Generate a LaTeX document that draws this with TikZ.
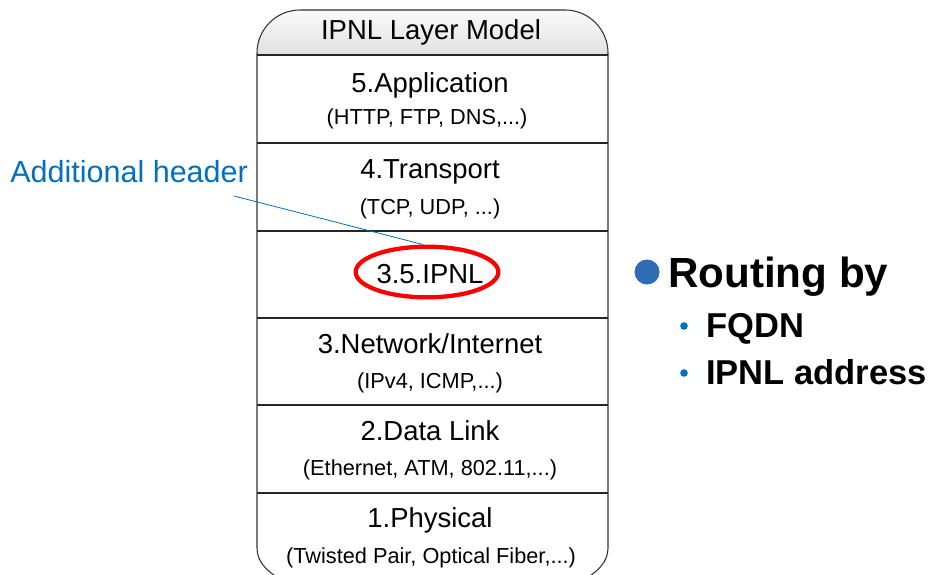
\documentclass[tikz,border=0pt]{standalone}
\usepackage{fontspec}
\setmainfont{Liberation Sans}
\usetikzlibrary{shapes.geometric}
\definecolor{annblue}{HTML}{0070C0}
\definecolor{bigdot}{HTML}{2E6DB4}
\definecolor{framec}{HTML}{333333}
\tikzset{
  layername/.style={anchor=base,inner sep=0pt,font=\fontsize{20.6}{24}\selectfont},
  layersub/.style={anchor=base,inner sep=0pt,font=\fontsize{16.3}{20}\selectfont},
  sepline/.style={line width=1.1pt,draw=black!85},
  bulletmain/.style={anchor=base west,inner sep=0pt,font=\fontsize{31.6}{36}\selectfont\bfseries},
  bulletsub/.style={anchor=base west,inner sep=0pt,font=\fontsize{25.9}{30}\selectfont\bfseries},
}
\begin{document}
\begin{tikzpicture}[x=0.75pt,y=-0.75pt]
\useasboundingbox (0,0) rectangle (930,574);
% header fill
\shade[top color=gray!4,bottom color=gray!24]
  (257,55) -- (257,53) arc[start angle=180,end angle=270,radius=43] -- (565,10)
  arc[start angle=270,end angle=360,radius=43] -- (608,55) -- cycle;
% outline
\draw[framec,line width=0.8pt]
  (580,582) .. controls (598,572) and (608,562) .. (608,548)
  -- (608,53) arc[start angle=0,end angle=-90,radius=43] -- (300,10)
  arc[start angle=270,end angle=180,radius=43] -- (257,548)
  .. controls (257,562) and (267,572) .. (285,582);
% separators
\foreach \yy in {55,143,231,318,405,493}
  \draw[sepline] (257,\yy) -- (608,\yy);
% texts
\node[layername] (hdr) at (431,40) {IPNL Layer Model};
\node[layername] (l5) at (430,93) {5.Application};
\node[layersub] (l5s) at (427,125) {(HTTP, FTP, DNS,...)};
\node[layername] (l4) at (430,178) {4.Transport};
\node[layersub] (l4s) at (430,214) {(TCP, UDP, ...)};
\node[layername] (l35) at (430,283) {3.5.IPNL};
\node[layername] (l3) at (430,353) {3.Network/Internet};
\node[layersub] (l3s) at (430,388) {(IPv4, ICMP,...)};
\node[layername] (l2) at (430,440) {2.Data Link};
\node[layersub] (l2s) at (430,475) {(Ethernet, ATM, 802.11,...)};
\node[layername] (l1) at (430,527) {1.Physical};
\node[layersub] (l1s) at (431,563) {(Twisted Pair, Optical Fiber,...)};
% ellipse
\node[ellipse,draw=red,line width=3.2pt,minimum width=107pt,minimum height=38pt,inner sep=0pt] (ell) at (427,272) {};
% annotation
\node[anchor=base west,inner sep=0pt,text=annblue,font=\fontsize{22.9}{26}\selectfont] (ann) at (10,182) {Additional header};
\coordinate (leadA) at (234,196);
\draw[annblue,line width=0.6pt] (leadA) -- ([xshift=-3]ell.north);
% bullets
\fill[bigdot] (647,272) circle[radius=12.5];
\node[bulletmain] (rb) at (668,287) {Routing by};
\fill[annblue] (684,326) circle[radius=3.8];
\node[bulletsub] (fq) at (706,337) {FQDN};
\fill[annblue] (684,373) circle[radius=3.8];
\node[bulletsub] (ia) at (706,384) {IPNL address};
\end{tikzpicture}
\end{document}
